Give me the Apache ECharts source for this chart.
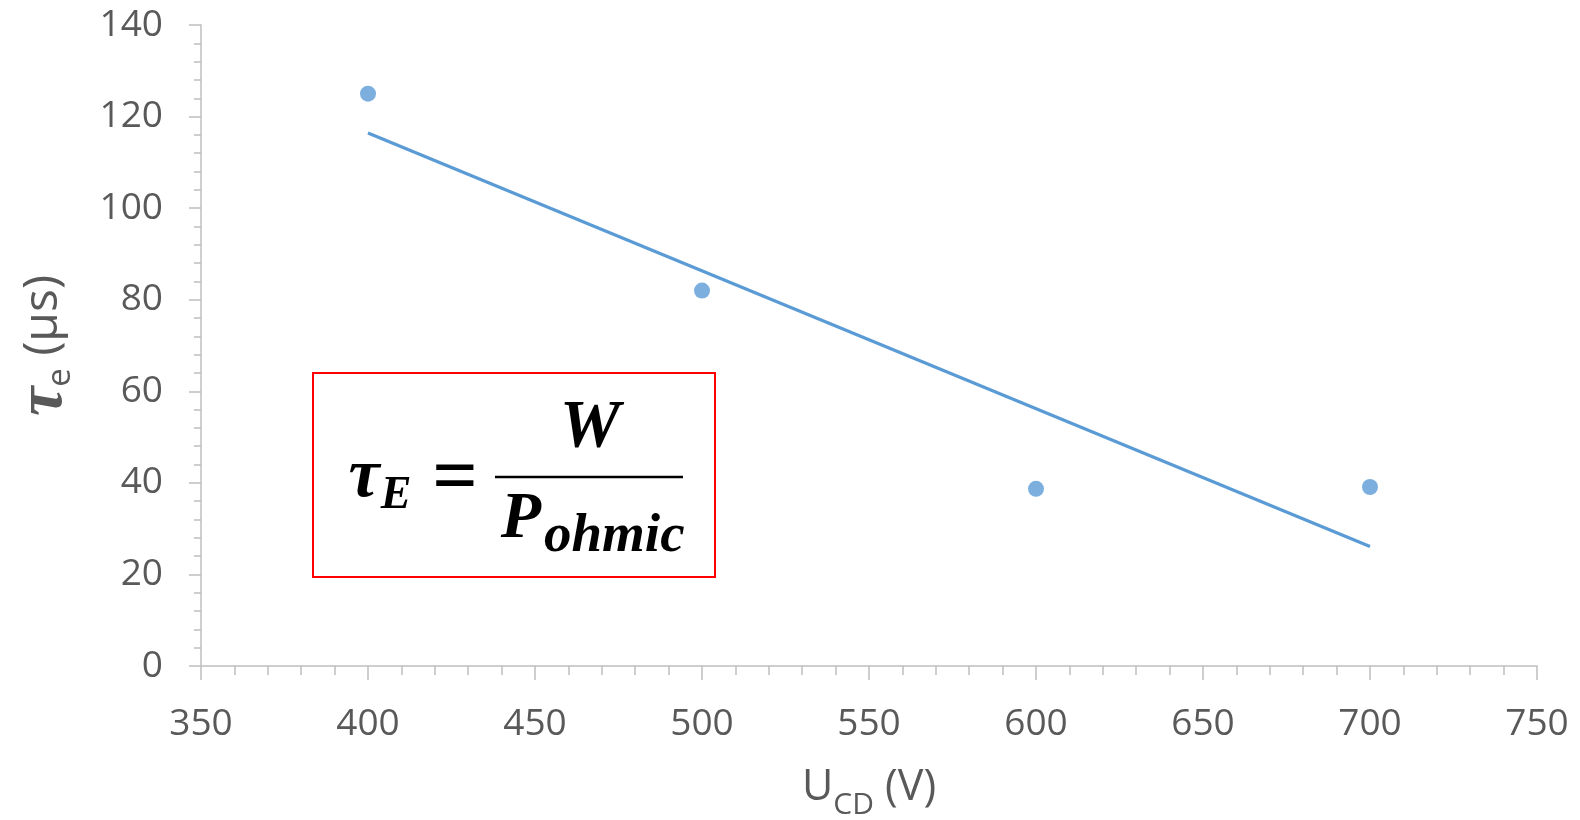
<!DOCTYPE html>
<html><head><meta charset="utf-8">
<script src="https://cdn.jsdelivr.net/npm/echarts@6/dist/echarts.min.js"></script>
<style>html,body{margin:0;padding:0;background:#fff}#c{width:1580px;height:820px}</style>
</head><body><div id="c"></div>
<script>
// Data
var voltages = [400, 500, 600, 700];
var tauValues = [125, 82, 38.7, 39.1];
// Linear trendline endpoints (as drawn in the reference)
var trendX = [400, 700];
var trendY = [116.4, 26.1];
var xTicks = {min: 350, max: 750, interval: 50};
var yTicks = {min: 0, max: 140, interval: 20};

var pts = voltages.map(function (v, i) { return [v, tauValues[i]]; });
var trend = trendX.map(function (v, i) { return [v, trendY[i]]; });

var chart = echarts.init(document.getElementById('c'), null, {renderer: 'canvas'});
var axisGrey = '#bfbfbf';
var labelGrey = '#595959';
var serif = '"Liberation Serif", "DejaVu Serif", serif';

chart.setOption({
  animation: false,
  backgroundColor: '#fff',
  grid: {left: 201, right: 43, top: 25, bottom: 154, containLabel: false, outerBoundsMode: 'none'},
  xAxis: {
    type: 'value', min: xTicks.min, max: xTicks.max, interval: xTicks.interval,
    axisLine: {show: true, lineStyle: {color: axisGrey, width: 1.5}},
    axisTick: {show: true, length: 14, lineStyle: {color: axisGrey, width: 1.5}},
    minorTick: {show: true, splitNumber: 5, length: 9, lineStyle: {color: axisGrey, width: 1.5}},
    splitLine: {show: false},
    axisLabel: {color: labelGrey, fontSize: 37, fontFamily: '"Open Sans"', margin: 40},
    name: '{u|U}{s|CD}{u| (V)}',
    nameLocation: 'middle', nameGap: 100,
    nameTextStyle: {
      rich: {
        u: {fontSize: 43, fontFamily: '"Open Sans"', color: labelGrey, verticalAlign: 'bottom', padding: [0, 0, 11, 0]},
        s: {fontSize: 30, fontFamily: '"Open Sans"', color: labelGrey, verticalAlign: 'bottom'}
      }
    }
  },
  yAxis: {
    type: 'value', min: yTicks.min, max: yTicks.max, interval: yTicks.interval,
    axisLine: {show: true, lineStyle: {color: axisGrey, width: 1.5}},
    axisTick: {show: true, length: 12, lineStyle: {color: axisGrey, width: 1.5}},
    minorTick: {show: true, splitNumber: 5, length: 7, lineStyle: {color: axisGrey, width: 1.5}},
    splitLine: {show: false},
    axisLabel: {color: labelGrey, fontSize: 37, fontFamily: '"Open Sans"', margin: 38},
    name: '{t|τ}{e|e}{u| (μs)}',
    nameLocation: 'middle', nameGap: 124, nameRotate: 90,
    nameTextStyle: {
      rich: {
        t: {fontSize: 66, fontFamily: serif, fontWeight: 'bold', fontStyle: 'italic', color: labelGrey, verticalAlign: 'bottom'},
        e: {fontSize: 33, fontFamily: '"Open Sans"', color: labelGrey, verticalAlign: 'bottom'},
        u: {fontSize: 48, fontFamily: '"Open Sans"', color: labelGrey, verticalAlign: 'bottom', padding: [0, 0, 10, 0]}
      }
    }
  },
  series: [
    {
      type: 'line', data: trend, symbol: 'none', silent: true,
      lineStyle: {color: '#5B9BD5', width: 3.2}, z: 2
    },
    {
      type: 'scatter', data: pts, symbol: 'circle', symbolSize: 16,
      itemStyle: {color: '#5B9BD5'}, z: 3
    }
  ],
  graphic: [
    {type: 'rect', shape: {x: 313, y: 373, width: 402, height: 204},
     style: {fill: 'none', stroke: '#ff0000', lineWidth: 2}, z: 10},
    {type: 'text', x: 364, y: 478, z: 11,
     style: {text: 'τ', font: 'italic bold 70px ' + serif, fill: '#000', align: 'center', verticalAlign: 'middle'}},
    {type: 'text', x: 396, y: 496, z: 11,
     style: {text: 'E', font: 'italic bold 46px ' + serif, fill: '#000', align: 'center', verticalAlign: 'middle'}},
    {type: 'text', x: 455, y: 481, z: 11,
     style: {text: '=', font: 'bold 80px ' + serif, fill: '#000', align: 'center', verticalAlign: 'middle'}},
    {type: 'line', shape: {x1: 495, y1: 477, x2: 683, y2: 477}, z: 11,
     style: {stroke: '#000', lineWidth: 2.5}},
    {type: 'text', x: 590, y: 428, z: 11,
     style: {text: 'W', font: 'italic bold 68px ' + serif, fill: '#000', align: 'center', verticalAlign: 'middle'}},
    {type: 'text', x: 521, y: 520, z: 11,
     style: {text: 'P', font: 'italic bold 66px ' + serif, fill: '#000', align: 'center', verticalAlign: 'middle'}},
    {type: 'text', x: 544, y: 537, z: 11,
     style: {text: 'ohmic', font: 'italic bold 55px ' + serif, fill: '#000', align: 'left', verticalAlign: 'middle'}}
  ]
});
</script>
</body></html>
